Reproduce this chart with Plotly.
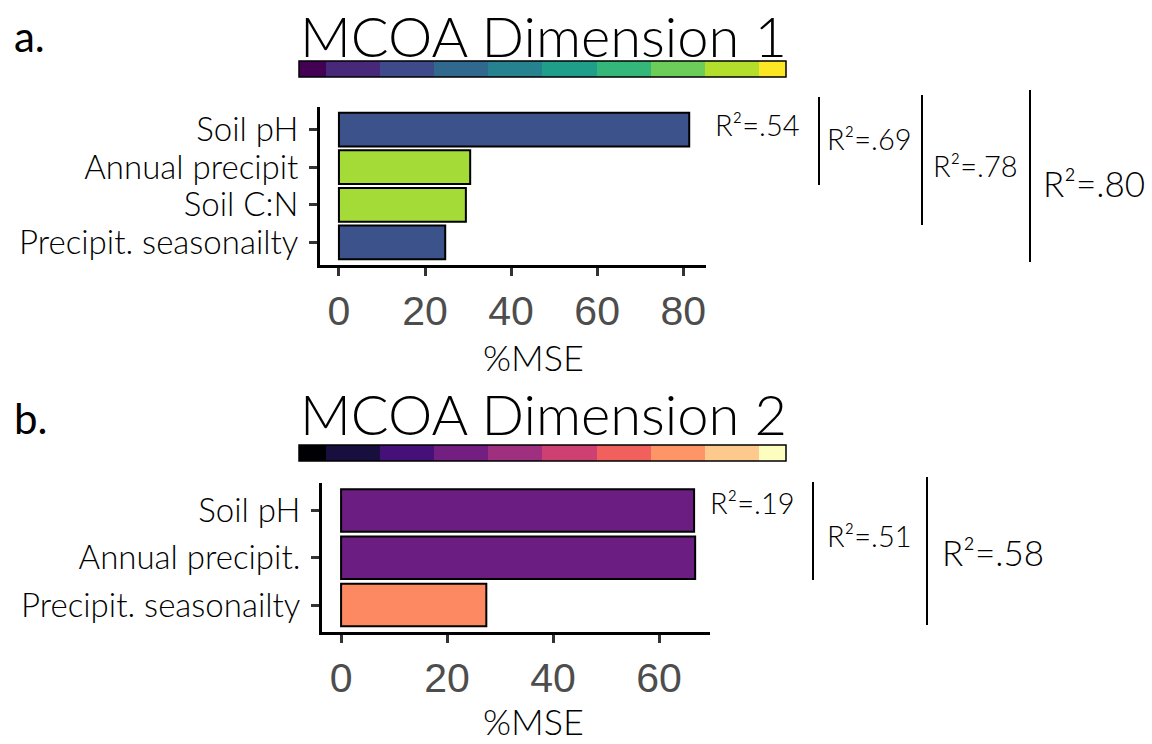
import plotly.graph_objects as go

W, H = 1152, 744

# --- data -------------------------------------------------------------
dim1_vars = ["Soil pH", "Annual precipit", "Soil C:N", "Precipit. seasonailty"]
dim1_mse = [81.4, 30.5, 29.5, 24.7]
dim1_colors = ["#3B528B", "#A5DB36", "#A5DB36", "#3B528B"]

dim2_vars = ["Soil pH", "Annual precipit.", "Precipit. seasonailty"]
dim2_mse = [66.6, 66.8, 27.4]
dim2_colors = ["#6B1D81", "#6B1D81", "#FC8961"]

viridis10 = ["#440154", "#482878", "#3E4A89", "#31688E", "#26828E",
             "#1F9E89", "#35B779", "#6DCD59", "#B4DE2C", "#FDE725"]
magma10 = ["#000004", "#180F3E", "#451077", "#721F81", "#9F2F7F",
           "#CD4071", "#F1605D", "#FD9567", "#FEC98D", "#FCFDBF"]

dim1_r2 = ["R²=.54", "R²=.69", "R²=.78", "R²=.80"]
dim2_r2 = ["R²=.19", "R²=.51", "R²=.58"]

dim1_ticks = [0, 20, 40, 60, 80]
dim2_ticks = [0, 20, 40, 60]

TXT = "Lato, 'Open Sans', sans-serif"
NUM = "'Liberation Sans', Arial, sans-serif"
LIGHT = 300


def px(x):
    return x / W


def py(y):
    return 1 - y / H


fig = go.Figure()

# bar panels
fig.add_trace(go.Bar(
    x=dim1_mse, y=dim1_vars, orientation="h", width=0.9,
    marker=dict(color=dim1_colors, line=dict(color="black", width=2)),
    xaxis="x", yaxis="y", showlegend=False, hoverinfo="x+y"))
fig.add_trace(go.Bar(
    x=dim2_mse, y=dim2_vars, orientation="h", width=0.9,
    marker=dict(color=dim2_colors, line=dict(color="black", width=2)),
    xaxis="x2", yaxis="y2", showlegend=False, hoverinfo="x+y"))


# discrete colour strips
def strip_scale(cols):
    n = len(cols)
    return [[i / (n - 1), c] for i, c in enumerate(cols)]


idx = list(range(10))
fig.add_trace(go.Heatmap(z=[idx], x=idx, y=[0], zmin=0, zmax=9,
                         colorscale=strip_scale(viridis10), showscale=False,
                         xaxis="x3", yaxis="y3", hoverinfo="skip"))
fig.add_trace(go.Heatmap(z=[idx], x=idx, y=[0], zmin=0, zmax=9,
                         colorscale=strip_scale(magma10), showscale=False,
                         xaxis="x4", yaxis="y4", hoverinfo="skip"))

xa_common = dict(showgrid=False, zeroline=False, showline=True, linecolor="black",
                 linewidth=3, ticks="outside", ticklen=8, tickwidth=3, tickcolor="#333333",
                 tickfont=dict(family=NUM, size=41, color="#4D4D4D"), fixedrange=True)
ya_common = dict(showgrid=False, zeroline=False, showline=True, linecolor="black",
                 linewidth=3, ticks="outside", ticklen=8, tickwidth=3, tickcolor="#333333",
                 tickfont=dict(family=TXT, size=33, color="black", weight=LIGHT),
                 fixedrange=True, type="category", ticklabelstandoff=4,
                 tickmode="array")

fig.update_layout(
    width=W, height=H, margin=dict(l=0, r=0, t=0, b=0),
    paper_bgcolor="white", plot_bgcolor="white",
    xaxis=dict(domain=[px(320), px(706)], range=[-4.4, 85.3], anchor="y",
               tickvals=dim1_ticks, **xa_common),
    yaxis=dict(domain=[py(265), py(107)], range=[3.6, -0.6], anchor="x",
               categoryorder="array", categoryarray=dim1_vars,
               tickvals=dim1_vars, ticktext=dim1_vars, **ya_common),
    xaxis2=dict(domain=[px(322), px(710)], range=[-3.6, 69.6], anchor="y2",
                tickvals=dim2_ticks, **xa_common),
    yaxis2=dict(domain=[py(632), py(483)], range=[2.57, -0.58], anchor="x2",
                categoryorder="array", categoryarray=dim2_vars,
                tickvals=dim2_vars, ticktext=dim2_vars, **ya_common),
    xaxis3=dict(domain=[px(299), px(786)], range=[0, 9], anchor="y3", visible=False,
                fixedrange=True),
    yaxis3=dict(domain=[py(77), py(61)], range=[-0.5, 0.5], anchor="x3", visible=False,
                fixedrange=True),
    xaxis4=dict(domain=[px(299), px(786)], range=[0, 9], anchor="y4", visible=False,
                fixedrange=True),
    yaxis4=dict(domain=[py(461), py(445)], range=[-0.5, 0.5], anchor="x4", visible=False,
                fixedrange=True),
    bargap=0.1,
)

ann = []
shapes = []


def text(x, y, s, size, anchor="center", family=TXT, color="black", weight=LIGHT):
    ann.append(dict(x=px(x), y=py(y), xref="paper", yref="paper", text=s,
                    showarrow=False, xanchor=anchor, yanchor="middle",
                    font=dict(family=family, size=size, color=color, weight=weight)))


def vline(x, y0, y1):
    shapes.append(dict(type="line", xref="paper", yref="paper",
                       x0=px(x), x1=px(x), y0=py(y0), y1=py(y1),
                       line=dict(color="black", width=2)))


# panel letters and titles
text(12, 36, "a.", 42, anchor="left", weight=400)
text(12, 418, "b.", 42, anchor="left", weight=400)
text(543, 36, "MCOA Dimension 1", 56)
text(543, 414, "MCOA Dimension 2", 56)

# axis titles
text(533, 357, "%MSE", 36)
text(533, 721, "%MSE", 36)

# colour strip borders
for y0, y1 in [(61, 77), (445, 461)]:
    shapes.append(dict(type="rect", xref="paper", yref="paper",
                       x0=px(299), x1=px(786), y0=py(y0), y1=py(y1),
                       line=dict(color="black", width=1.5)))

# model fit brackets, dimension 1
text(713, 125, dim1_r2[0], 29, anchor="left")
vline(819, 97, 185)
text(825, 138, dim1_r2[1], 29, anchor="left")
vline(922, 95, 225)
text(931, 165, dim1_r2[2], 29, anchor="left")
vline(1030, 90, 262)
text(1041, 183, dim1_r2[3], 35, anchor="left")

# model fit brackets, dimension 2
text(708, 503, dim2_r2[0], 29, anchor="left")
vline(813, 482, 580)
text(825, 535, dim2_r2[1], 29, anchor="left")
vline(927, 477, 625)
text(940, 552, dim2_r2[2], 35, anchor="left")

fig.update_layout(annotations=ann, shapes=shapes)

fig.write_html("out.html")
